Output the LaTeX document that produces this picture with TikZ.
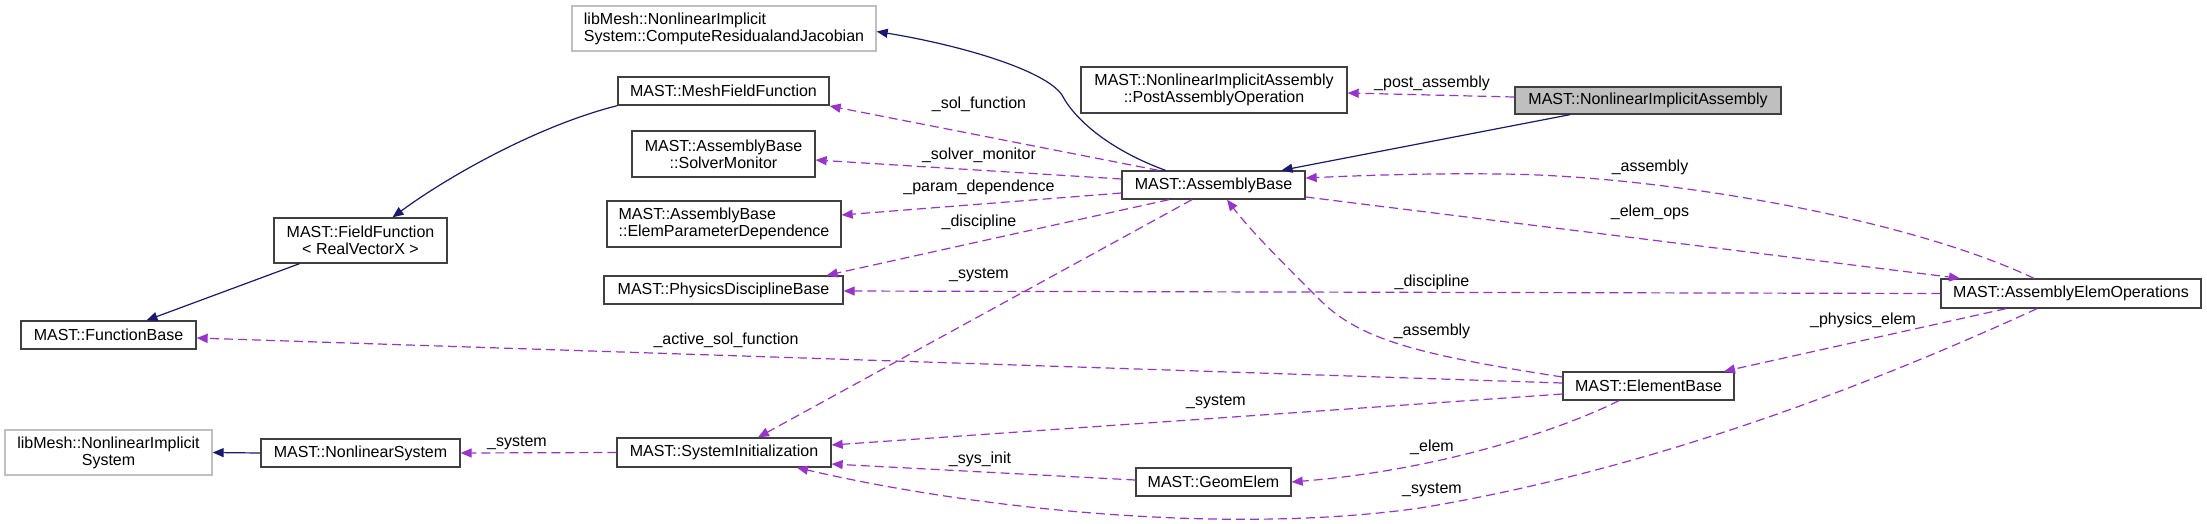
\documentclass[tikz,border=0pt]{standalone}
\usepackage{fontspec}
\setmainfont{Liberation Sans}
\usetikzlibrary{arrows.meta}
\definecolor{edgeblue}{HTML}{191970}
\definecolor{usepurple}{HTML}{9A32CD}
\definecolor{extgray}{HTML}{BFBFBF}
\definecolor{boxline}{HTML}{404040}
\begin{document}
\begin{tikzpicture}[x=1pt,y=-1pt,
  font=\fontsize{16}{17}\selectfont,
  box/.style={draw=boxline, line width=1.3pt, fill=white, inner sep=0pt, align=center},
  extbox/.style={box, draw=extgray},
  inh/.style={draw=edgeblue, line width=1.2pt, -{Triangle[length=11pt,width=9pt]}},
  use/.style={draw=usepurple, line width=1.2pt, dash pattern=on 9pt off 5pt, -{Triangle[length=11pt,width=9pt]}},
  lbl/.style={inner sep=0pt}]
\useasboundingbox[fill=white] (0,0) rectangle (2207,523);

% nodes
\node[extbox, align=left, minimum width=304pt, minimum height=45pt] (crj) at (724,28.5) {libMesh::NonlinearImplicit\\System::ComputeResidualandJacobian};
\node[box, minimum width=211pt, minimum height=28pt] (mff) at (723.5,91) {MAST::MeshFieldFunction};
\node[box, minimum width=183pt, minimum height=46pt] (sm) at (723.5,154) {MAST::AssemblyBase\\::SolverMonitor};
\node[box, align=left, minimum width=234pt, minimum height=46pt] (epd) at (724,224) {MAST::AssemblyBase\\::ElemParameterDependence};
\node[box, minimum width=239pt, minimum height=28pt] (pdb) at (723.5,290) {MAST::PhysicsDisciplineBase};
\node[box, minimum width=214pt, minimum height=29pt] (si) at (724,452.5) {MAST::SystemInitialization};
\node[box, minimum width=199pt, minimum height=28pt] (ns) at (360.5,453) {MAST::NonlinearSystem};
\node[extbox, minimum width=207pt, minimum height=45pt] (nis) at (108.5,452.5) {libMesh::NonlinearImplicit\\System};
\node[box, minimum width=175pt, minimum height=28pt] (fb) at (108.5,335) {MAST::FunctionBase};
\node[box, minimum width=173pt, minimum height=45pt] (ff) at (360.5,240.5) {MAST::FieldFunction\\< RealVectorX >};
\node[box, minimum width=266pt, minimum height=46pt] (pao) at (1214,90) {MAST::NonlinearImplicitAssembly\\::PostAssemblyOperation};
\node[box, fill=extgray, minimum width=266pt, minimum height=27pt] (nia) at (1648,100.5) {MAST::NonlinearImplicitAssembly};
\node[box, minimum width=183pt, minimum height=28pt] (ab) at (1213.5,185) {MAST::AssemblyBase};
\node[box, minimum width=260pt, minimum height=29pt] (aeo) at (2071,293.5) {MAST::AssemblyElemOperations};
\node[box, minimum width=171pt, minimum height=28pt] (eb) at (1648.5,386) {MAST::ElementBase};
\node[box, minimum width=155pt, minimum height=28pt] (ge) at (1213.5,482) {MAST::GeomElem};

% inheritance edges
\draw[inh] ([xshift=-78pt]nia.south) -- ([xshift=68pt]ab.north);
\draw[inh] ([xshift=-48pt]ab.north) .. controls (1110,150) and (1075,120) .. (1062,95)
   .. controls (1045,70) and (960,45) .. ([yshift=-3pt]crj.east);
\draw[inh] (mff.south west) .. controls (540,125) and (450,175) .. ([xshift=32pt]ff.north);
\draw[inh] ([xshift=-61pt]ff.south) -- ([xshift=38pt]fb.north);
\draw[inh] (ns.west) -- (nis.east);

% usage edges
\draw[use] (si.west) -- (ns.east);
\node[lbl] (l1) at (517,443) {\_system};

\draw[use] ([yshift=3.5pt]nia.west) -- ([yshift=-3pt]pao.east);
\node[lbl] (l2) at (1432,83) {\_post\_assembly};

\draw[use] ([xshift=-55pt]ab.north) -- ([yshift=-15pt]mff.east);
\node[lbl] (l3) at (979,104) {\_sol\_function};

\draw[use] ([yshift=6pt]ab.west) -- ([yshift=-6pt]sm.east);
\node[lbl] (l4) at (979,155) {\_solver\_monitor};

\draw[use] ([yshift=-8pt]ab.west) -- ([yshift=9pt]epd.east);
\node[lbl] (l5) at (979,187) {\_param\_dependence};

\draw[use] ([xshift=-44.5pt]ab.south) -- ([xshift=-17pt]pdb.north east);
\node[lbl] (l6) at (979,222) {\_discipline};

\draw[use] ([xshift=-21.5pt]ab.south) -- ([xshift=34pt]si.north);
\node[lbl] (l7) at (979,275) {\_system};

\draw[use] ([xshift=-37pt]aeo.north) .. controls (1900,215) and (1650,175) .. (1500,174)
   .. controls (1420,173) and (1350,176) .. ([yshift=7pt]ab.east);
\node[lbl] (l8) at (1650,167) {\_assembly};

\draw[use] ([yshift=-12pt]ab.east) -- ([xshift=-111pt]aeo.north);
\node[lbl] (l9) at (1650,212) {\_elem\_ops};

\draw[use] (aeo.west) -- ([yshift=-1pt]pdb.east);
\node[lbl] (l10) at (1432,282) {\_discipline};

\draw[use] ([yshift=9pt]eb.west) .. controls (1420,355) and (1360,340) .. (1320,300)
   .. controls (1280,260) and (1250,230) .. ([xshift=13.5pt]ab.south);
\node[lbl] (l11) at (1432,331) {\_assembly};

\draw[use] ([xshift=-65pt]aeo.south) -- ([xshift=75.5pt]eb.north);
\node[lbl] (l12) at (1863,320) {\_physics\_elem};

\draw[use] ([yshift=3pt]eb.west) -- ([yshift=-3pt]fb.east);
\node[lbl] (l13) at (726,340) {\_active\_sol\_function};

\draw[use] ([yshift=-8pt]eb.west) -- ([yshift=7.5pt]si.east);
\node[lbl] (l14) at (1216,402) {\_system};

\draw[use] ([xshift=-29.5pt]eb.south) .. controls (1560,430) and (1440,470) .. (ge.east);
\node[lbl] (l15) at (1432,447) {\_elem};

\draw[use] ([yshift=2pt]ge.west) -- ([yshift=-11.5pt]si.east);
\node[lbl] (l16) at (980,459) {\_sys\_init};

\draw[use] ([xshift=-34pt]aeo.south) .. controls (1870,385) and (1650,470) .. (1420,508)
   .. controls (1230,535) and (980,510) .. ([xshift=73pt]si.south);
\node[lbl] (l17) at (1432,490) {\_system};
\end{tikzpicture}
\end{document}
